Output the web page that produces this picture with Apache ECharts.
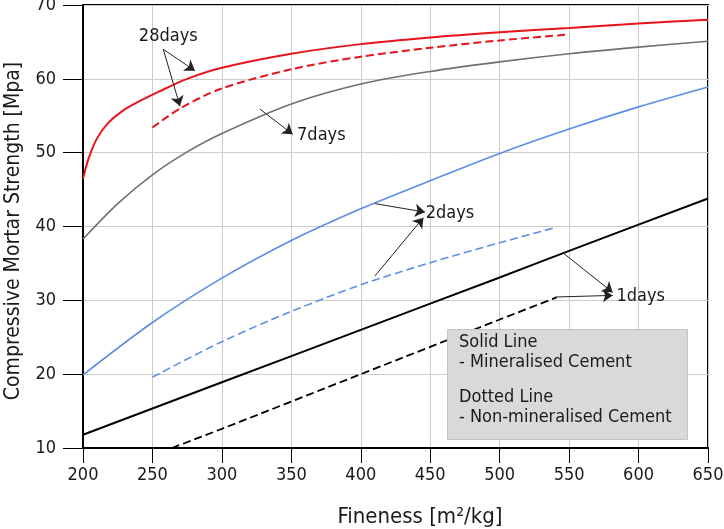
<!DOCTYPE html>
<html>
<head>
<meta charset="utf-8">
<script src="https://cdn.jsdelivr.net/npm/echarts@6/dist/echarts.min.js"></script>
<style>html,body{margin:0;padding:0;background:#fff}#c{width:724px;height:529px}</style>
</head>
<body>
<div id="c"></div>
<script>
// ---- data (Fineness [m2/kg] vs Compressive strength [MPa]) ----
const xTicks = [200, 250, 300, 350, 400, 450, 500, 550, 600, 650];
const yTicks = [10, 20, 30, 40, 50, 60, 70];

const d28SolidX = [200, 204, 210, 218, 228, 240, 255, 275, 300, 350, 400, 450, 500, 550, 600, 650];
const d28SolidY = [46.5, 49.2, 51.9, 54.0, 55.6, 56.9, 58.3, 60.0, 61.5, 63.4, 64.7, 65.6, 66.3, 66.9, 67.5, 68.0];

const d28DashX = [250, 270, 300, 350, 400, 450, 500, 550];
const d28DashY = [53.4, 56.0, 58.7, 61.3, 63.0, 64.2, 65.2, 66.0];

const d7SolidX = [200, 225, 250, 275, 300, 350, 400, 450, 500, 550, 600, 650];
const d7SolidY = [38.3, 43.1, 47.0, 50.1, 52.6, 56.6, 59.3, 61.0, 62.3, 63.4, 64.3, 65.1];

const d2SolidX = [200, 250, 300, 350, 400, 450, 500, 550, 600, 650];
const d2SolidY = [19.9, 27.0, 33.0, 38.1, 42.4, 46.2, 49.9, 53.2, 56.2, 58.9];

const d2DashX = [250, 300, 350, 400, 450, 500, 541];
const d2DashY = [19.6, 24.4, 28.5, 32.1, 35.1, 37.8, 39.9];

const d1SolidX = [200, 300, 400, 500, 550, 650];
const d1SolidY = [11.8, 18.9, 26.0, 33.1, 36.7, 43.8];

const d1DashX = [264, 300, 400, 500, 541];
const d1DashY = [10.0, 12.6, 20.0, 27.4, 30.4];

// annotation labels (data coords of text centre)
const labelNames = ['28days', '7days', '2days', '1days'];
const labelX = [261.4, 371.6, 464.2, 601.5];
const labelY = [65.8, 52.3, 41.85, 30.5];

// annotation arrows [x1, y1, x2, y2] in data coords
const arrows = [
  [257.8, 64.0, 280.6, 61.1],
  [257.8, 64.0, 269.8, 56.3],
  [327.4, 55.9, 351.0, 52.5],
  [410.2, 43.1, 446.2, 41.95],
  [410.2, 33.3, 445.1, 41.2],
  [545.8, 36.4, 581.4, 31.07],
  [540.3, 30.45, 581.4, 30.67]
];

const legendLines = ['Solid Line', '- Mineralised Cement', 'Dotted Line', '- Non-mineralised Cement'];

// ---- build ----
const zip = (xs, ys) => xs.map((x, i) => [x, ys[i]]);
const FONT = '"DejaVu Sans Condensed", "DejaVu Sans", sans-serif';
const TXT = '#1a1a1a';

function lineSeries(name, xs, ys, color, width, dashed) {
  return {
    name: name, type: 'line', data: zip(xs, ys), smooth: 0.3,
    showSymbol: false, symbol: 'none', animation: false,
    lineStyle: { color: color, width: width, type: dashed ? [8, 4] : 'solid' },
    z: 3
  };
}

const chart = echarts.init(document.getElementById('c'), null, { renderer: 'canvas' });
const option = {
  animation: false,
  backgroundColor: '#fff',
  grid: { left: 83, right: 16, top: 5, bottom: 81, show: true, borderColor: '#000', borderWidth: 2, backgroundColor: 'transparent', containLabel: false, outerBoundsMode: 'none' },
  xAxis: {
    type: 'value', min: xTicks[0], max: xTicks[xTicks.length - 1], interval: 50,
    name: 'Fineness [m²/kg]', nameLocation: 'middle', nameGap: 58,
    nameTextStyle: { fontFamily: FONT, fontSize: 22, color: TXT, padding: [0, 0, 0, 49] },
    axisLine: { lineStyle: { color: '#000', width: 2 } },
    axisTick: { show: true, length: 15, lineStyle: { color: '#000', width: 1 } },
    axisLabel: { fontFamily: FONT, fontSize: 18, color: TXT, margin: 18 },
    splitLine: { show: true, lineStyle: { color: '#cccccc', width: 1 } }
  },
  yAxis: {
    type: 'value', min: yTicks[0], max: yTicks[yTicks.length - 1], interval: 10,
    name: 'Compressive Mortar Strength [Mpa]', nameLocation: 'middle', nameGap: 56,
    nameTextStyle: { fontFamily: FONT, fontSize: 21, color: TXT, padding: [0, 9, 0, 0] },
    axisLine: { lineStyle: { color: '#000', width: 2 } },
    axisTick: { show: true, length: 20, lineStyle: { color: '#000', width: 1 } },
    axisLabel: { fontFamily: FONT, fontSize: 18, color: TXT, margin: 27 },
    splitLine: { show: true, lineStyle: { color: '#cccccc', width: 1 } }
  },
  series: [
    lineSeries('28 solid', d28SolidX, d28SolidY, '#e8141b', 2, false),
    lineSeries('28 dash', d28DashX, d28DashY, '#e8141b', 2, true),
    lineSeries('7 solid', d7SolidX, d7SolidY, '#707070', 1.6, false),
    lineSeries('2 solid', d2SolidX, d2SolidY, '#5b8ee6', 1.6, false),
    lineSeries('2 dash', d2DashX, d2DashY, '#5b8ee6', 1.6, true),
    lineSeries('1 solid', d1SolidX, d1SolidY, '#000000', 2, false),
    lineSeries('1 dash', d1DashX, d1DashY, '#000000', 1.8, true),
    {
      type: 'lines', coordinateSystem: 'cartesian2d', polyline: false, animation: false,
      symbol: ['none', 'arrow'], symbolSize: [0, 10],
      lineStyle: { color: '#222', width: 1, opacity: 1 },
      data: arrows.map(a => ({ coords: [[a[0], a[1]], [a[2], a[3]]] })),
      z: 5
    },
    {
      type: 'scatter', symbolSize: 0, animation: false, silent: true,
      itemStyle: { opacity: 1, color: '#000' },
      data: labelNames.map((n, i) => ({ name: n, value: [labelX[i], labelY[i]] })),
      label: { show: true, position: 'inside', formatter: p => p.name, fontFamily: FONT, fontSize: 18, color: TXT, textBorderWidth: 0 },
      z: 6
    }
  ],
  graphic: [
    { type: 'rect', left: 447, top: 329, z: 10, shape: { width: 240, height: 110 }, style: { fill: '#d9d9d9', stroke: '#c4c4c4', lineWidth: 1 } },
    { type: 'text', left: 459, top: 333, z: 11, style: { text: legendLines[0], font: '18px "DejaVu Sans Condensed", "DejaVu Sans"', fill: TXT } },
    { type: 'text', left: 459, top: 353, z: 11, style: { text: legendLines[1], font: '18px "DejaVu Sans Condensed", "DejaVu Sans"', fill: TXT } },
    { type: 'text', left: 459, top: 388, z: 11, style: { text: legendLines[2], font: '18px "DejaVu Sans Condensed", "DejaVu Sans"', fill: TXT } },
    { type: 'text', left: 459, top: 408, z: 11, style: { text: legendLines[3], font: '18px "DejaVu Sans Condensed", "DejaVu Sans"', fill: TXT } }
  ]
};
chart.setOption(option);
</script>
</body>
</html>
